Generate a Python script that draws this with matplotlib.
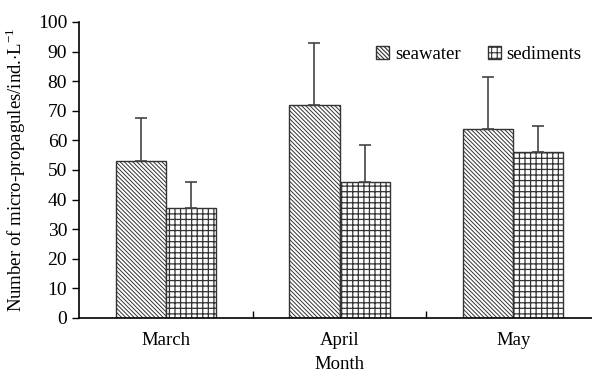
import matplotlib
matplotlib.use("Agg")
import matplotlib.pyplot as plt
import numpy as np

months = ["March", "April", "May"]
seawater = [53, 72, 64]
seawater_err = [14.7, 21, 17.5]
sediments = [37, 46, 56]
sediments_err = [9, 12.5, 9]
y_ticks = [0, 10, 20, 30, 40, 50, 60, 70, 80, 90, 100]

plt.rcParams["font.family"] = ["Liberation Serif", "DejaVu Serif"]
plt.rcParams["hatch.color"] = "#222222"
plt.rcParams["hatch.linewidth"] = 0.8
plt.rcParams["mathtext.fontset"] = "custom"
plt.rcParams["mathtext.rm"] = "Liberation Serif"

fs = 13.5

fig = plt.figure(figsize=(5.92, 3.73), dpi=100)
# axes deliberately runs a little past the right border
ax = fig.add_axes([79 / 592, 1 - 318 / 373, 521 / 592, 296 / 373])

x = np.arange(len(months))
w = 0.288


def set_hatch_lw(bars, lw):
    for b in bars:
        if hasattr(b, "set_hatch_linewidth"):
            b.set_hatch_linewidth(lw)


sw = ax.bar(x - w / 2, seawater, w, color="white", edgecolor="#333333", linewidth=1.0,
            hatch="\\" * 8, label="seawater")
set_hatch_lw(sw, 0.7)

sd = ax.bar(x + w / 2, sediments, w, color="white", edgecolor="#333333", linewidth=1.0,
            hatch="+++", label="sediments")
set_hatch_lw(sd, 0.9)

ax.errorbar(x - w / 2, seawater, yerr=[np.zeros(3), seawater_err], fmt="none",
            ecolor="#444444", elinewidth=1.2, capsize=4, capthick=1.2)
ax.errorbar(x + w / 2, sediments, yerr=[np.zeros(3), sediments_err], fmt="none",
            ecolor="#444444", elinewidth=1.2, capsize=4, capthick=1.2)

ax.set_xlim(-0.5, 2.5)
ax.set_ylim(0, 100)
ax.set_yticks(y_ticks)
ax.set_xticks(x)
ax.set_xticklabels(months)
ax.set_xticks([0.5, 1.5], minor=True)
ax.tick_params(axis="x", which="major", length=0, labelsize=fs, pad=10)
ax.tick_params(axis="x", which="minor", direction="in", length=5, width=1)
ax.tick_params(axis="y", direction="out", length=5, width=1, labelsize=14)
for s in ["top", "right"]:
    ax.spines[s].set_visible(False)
for s in ["left", "bottom"]:
    ax.spines[s].set_linewidth(1.2)

ax.set_xlabel("Month", fontsize=fs, labelpad=5)
ax.set_ylabel("Number of micro-propagules/ind.$\\cdot$L$^{\\mathregular{-1}}$",
              fontsize=13.5, labelpad=7)

ax.legend(handles=[sw, sd], loc="upper right", bbox_to_anchor=(0.997, 0.975), ncol=2,
          frameon=False, fontsize=fs, handlelength=0.7, handleheight=0.7,
          handletextpad=0.3, columnspacing=1.45)

fig.savefig("out.png", dpi=100)
